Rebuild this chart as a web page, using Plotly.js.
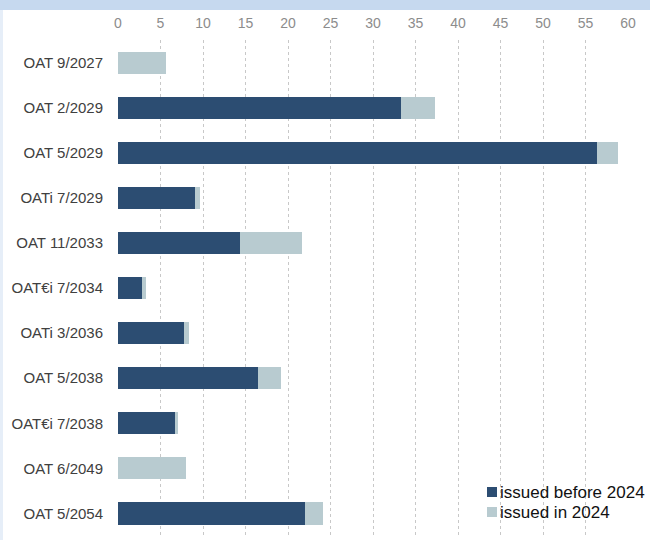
<!DOCTYPE html>
<html>
<head>
<meta charset="utf-8">
<script src="https://cdn.plot.ly/plotly-3.0.1.min.js"></script>
<style>
  html, body { margin: 0; padding: 0; background: #ffffff; }
  #chart { width: 650px; height: 540px; }
</style>
</head>
<body>
<div id="chart"></div>
<script>
// Bond lines (top to bottom)
const bonds = [
  "OAT 9/2027", "OAT 2/2029", "OAT 5/2029", "OATi 7/2029", "OAT 11/2033",
  "OAT€i 7/2034", "OATi 3/2036", "OAT 5/2038", "OAT€i 7/2038", "OAT 6/2049", "OAT 5/2054"
];
// Outstanding amount issued before 2024 (bn €)
const issuedBefore2024 = [0, 33.3, 56.4, 9.1, 14.3, 2.8, 7.8, 16.5, 6.7, 0, 22.0];
// Amount issued during 2024 (bn €)
const issuedIn2024 = [5.6, 4.0, 2.4, 0.6, 7.3, 0.5, 0.6, 2.7, 0.4, 8.0, 2.1];
// Axis ticks
const xTicks = [0, 5, 10, 15, 20, 25, 30, 35, 40, 45, 50, 55, 60];
// Series names
const seriesNames = ["issued before 2024", "issued in 2024"];

const darkBlue = "#2c4d72";
const greyBlue = "#b8cbd0";
const seriesColors = [darkBlue, greyBlue];

const traces = [
  {
    type: "bar", orientation: "h", name: seriesNames[0],
    y: bonds, x: issuedBefore2024,
    marker: { color: darkBlue, line: { width: 0 } },
    hoverinfo: "skip"
  },
  {
    type: "bar", orientation: "h", name: seriesNames[1],
    y: bonds, x: issuedIn2024,
    marker: { color: greyBlue, line: { width: 0 } },
    hoverinfo: "skip"
  }
];

// Plot-area geometry (pixels) used to place the compact key
const W = 650, H = 540, mL = 118, mR = 22, mT = 40, mB = 4;
const pw = W - mL - mR, ph = H - mT - mB;
const px = v => (v - mL) / pw;
const py = v => (H - mB - v) / ph;

// Compact key: small square swatch followed directly by its label
const keyRows = [492, 512];
const keyShapes = keyRows.map((yc, i) => ({
  type: "rect", xref: "paper", yref: "paper",
  x0: px(487), x1: px(497), y0: py(yc + 5), y1: py(yc - 5),
  fillcolor: seriesColors[i], line: { width: 0 }
}));
const keyLabels = keyRows.map((yc, i) => ({
  xref: "paper", yref: "paper", x: px(498), y: py(yc),
  xanchor: "left", yanchor: "middle", showarrow: false,
  text: seriesNames[i], font: { size: 17, color: "#111111" }
}));

const layout = {
  width: W, height: H,
  margin: { l: mL, r: mR, t: mT, b: mB, pad: 0 },
  paper_bgcolor: "#ffffff", plot_bgcolor: "#ffffff",
  barmode: "stack", bargap: 0.51,
  font: { family: "'Liberation Sans', Arial, sans-serif", size: 15, color: "#3a3a3a" },
  showlegend: false,
  xaxis: {
    side: "top", range: [0, 60], tickvals: xTicks, ticktext: xTicks.map(String),
    showgrid: true, gridcolor: "#c8c8c8", griddash: "dot", gridwidth: 1,
    zeroline: false, showline: false,
    ticks: "outside", ticklen: 5, tickcolor: "rgba(0,0,0,0)",
    tickfont: { size: 14, color: "#8c8c8c" }, fixedrange: true
  },
  yaxis: {
    categoryorder: "array", categoryarray: bonds, autorange: "reversed",
    showgrid: false, zeroline: false, showline: false,
    ticks: "outside", ticklen: 11, tickcolor: "rgba(0,0,0,0)",
    tickfont: { size: 15, color: "#404040" }, fixedrange: true
  },
  annotations: keyLabels,
  shapes: [
    // light blue header band
    { type: "rect", xref: "paper", yref: "paper",
      x0: px(-5), x1: px(W + 5), y0: py(10), y1: py(-5), fillcolor: "#c6d9ef", line: { width: 0 }, layer: "below" },
    // thin strip on the left edge
    { type: "rect", xref: "paper", yref: "paper",
      x0: px(0), x1: px(3), y0: py(H + 5), y1: py(10), fillcolor: "#e6eef8", line: { width: 0 }, layer: "below" }
  ].concat(keyShapes)
};

Plotly.newPlot("chart", traces, layout, { displayModeBar: false, staticPlot: true });
</script>
</body>
</html>
